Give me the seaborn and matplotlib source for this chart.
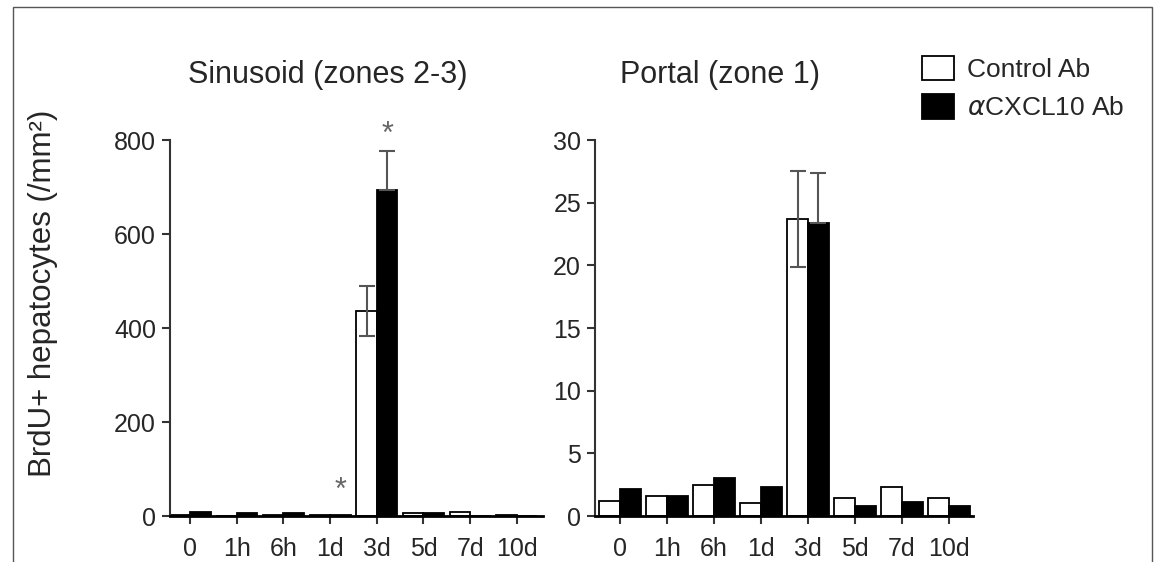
import numpy as np
import pandas as pd
import matplotlib.pyplot as plt
import seaborn as sns
from matplotlib.patches import Patch, Rectangle

sns.set_style("ticks")
plt.rcParams['font.family'] = ['Liberation Sans', 'DejaVu Sans']

# data
times = ['0', '1h', '6h', '1d', '3d', '5d', '7d', '10d']
groups = ['Control Ab', 'αCXCL10 Ab']

sin_ctrl = [3, 1, 3, 2, 437, 7, 8, 3]
sin_cxcl = [8, 7, 7, 3, 694, 6, 1, 1]
sin_ctrl_err = [0, 0, 0, 0, 53, 0, 0, 0]
sin_cxcl_err = [0, 0, 0, 0, 83, 0, 0, 0]

por_ctrl = [1.2, 1.6, 2.45, 1.05, 23.7, 1.45, 2.3, 1.4]
por_cxcl = [2.15, 1.6, 3.05, 2.35, 23.35, 0.8, 1.15, 0.8]
por_ctrl_err = [0, 0, 0, 0, 3.8, 0, 0, 0]
por_cxcl_err = [0, 0, 0, 0, 4.0, 0, 0, 0]

# asterisks: (time, group index, offset in points above bar/error top)
sin_stars = [('1d', 1, 6), ('3d', 1, 1)]

W, H = 1157, 562
fig = plt.figure(figsize=(W / 100, H / 100), dpi=100)

ax1 = fig.add_axes([170 / W, 1 - 516 / H, 373 / W, 376 / H])
ax2 = fig.add_axes([595 / W, 1 - 516 / H, 378 / W, 376 / H])

pal = {groups[0]: 'white', groups[1]: 'black'}
ecol = '#333333'
errcol = '#555555'


def panel(ax, ctrl, cxcl, ctrl_err, cxcl_err, ylim, yticks, xlim, title, tx):
    df = pd.DataFrame({
        'time': times * 2,
        'group': [groups[0]] * len(times) + [groups[1]] * len(times),
        'value': list(ctrl) + list(cxcl),
    })
    sns.barplot(data=df, x='time', y='value', hue='group', order=times,
                hue_order=groups, palette=pal, edgecolor='black',
                linewidth=1.3, width=0.88, errorbar=None, legend=False, ax=ax)
    # error bars: control both ways, cxcl only upward
    for i in range(len(times)):
        if ctrl_err[i] > 0:
            b = ax.containers[0][i]
            ax.errorbar(b.get_x() + b.get_width() / 2, ctrl[i], yerr=ctrl_err[i],
                        fmt='none', ecolor=errcol, elinewidth=1.5, capsize=6,
                        capthick=1.5, zorder=5)
        if cxcl_err[i] > 0:
            b = ax.containers[1][i]
            ax.errorbar(b.get_x() + b.get_width() / 2, cxcl[i],
                        yerr=[[0], [cxcl_err[i]]], fmt='none', ecolor=errcol,
                        elinewidth=1.5, capsize=6, capthick=1.5, zorder=1)
    ax.set_ylim(*ylim)
    ax.set_yticks(yticks)
    ax.set_xlim(*xlim)
    ax.set_xlabel('')
    ax.set_ylabel('')
    ax.set_title(title, fontsize=22, pad=41, x=tx)
    sns.despine(ax=ax)
    ax.spines['left'].set_color(ecol)
    ax.spines['left'].set_linewidth(1.5)
    ax.spines['bottom'].set_color('black')
    ax.spines['bottom'].set_linewidth(2)
    ax.tick_params(axis='both', labelsize=18, width=1.5, length=6, color=ecol,
                   pad=4)
    ax.tick_params(axis='x', pad=9)


panel(ax1, sin_ctrl, sin_cxcl, sin_ctrl_err, sin_cxcl_err, (0, 800),
      [0, 200, 400, 600, 800], (-0.43, 7.56), 'Sinusoid (zones 2-3)', 0.422)
panel(ax2, por_ctrl, por_cxcl, por_ctrl_err, por_cxcl_err, (0, 30),
      [0, 5, 10, 15, 20, 25, 30], (-0.53, 7.51), 'Portal (zone 1)', 0.33)

# significance stars
for t, g, off in sin_stars:
    i = times.index(t)
    b = ax1.containers[g][i]
    top = [sin_ctrl, sin_cxcl][g][i] + [sin_ctrl_err, sin_cxcl_err][g][i]
    ax1.annotate('*', (b.get_x() + b.get_width() / 2, top), xytext=(0, off),
                 textcoords='offset points', ha='center', va='bottom',
                 fontsize=22, color='#666666', annotation_clip=False)

fig.text(43 / W, 1 - 293 / H, 'BrdU+ hepatocytes (/mm²)', rotation=90,
         ha='center', va='center', fontsize=22.5)

handles = [Patch(facecolor='white', edgecolor='black', linewidth=1.3),
           Patch(facecolor='black', edgecolor='black', linewidth=1.3)]
fig.legend(handles, ['Control Ab', r'$\alpha$CXCL10 Ab'], loc='upper left',
           bbox_to_anchor=(922 / W, 1 - 56 / H), frameon=False, fontsize=19,
           handlelength=1.2, handleheight=1.05, handletextpad=0.5,
           labelspacing=0.45, borderpad=0, borderaxespad=0)

fig.add_artist(Rectangle((13 / W, -0.1), (1152 - 13) / W, 1.1 - 7 / H,
                         transform=fig.transFigure, fill=False,
                         edgecolor='#555555', linewidth=1))

fig.savefig('out.png', dpi=100)
